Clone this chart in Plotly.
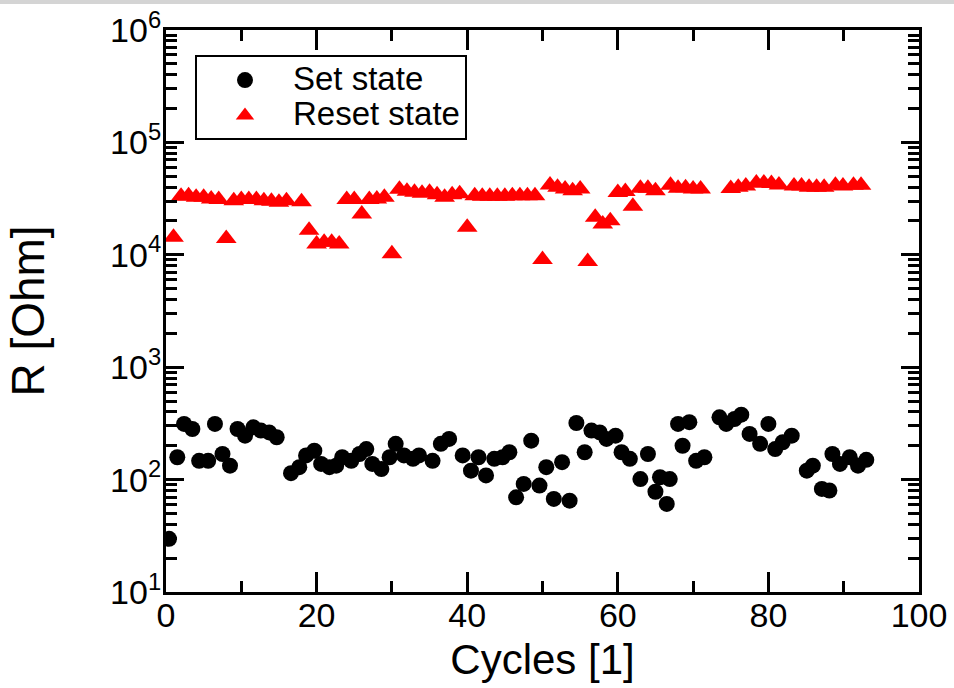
import plotly.graph_objects as go

# ---- data ----
set_cycles = [0.4, 1.5, 2.4, 3.5, 4.4, 5.6, 6.5, 7.5, 8.5, 9.5, 10.5, 11.6, 12.6, 13.7, 14.7,
              16.6, 17.7, 18.6, 19.7, 20.6, 21.7, 22.6, 23.4, 24.6, 25.7, 26.6, 27.4, 28.6, 29.7,
              30.5, 31.6, 32.8, 33.6, 35.4, 36.5, 37.6, 39.4, 40.5, 41.5, 42.5, 43.6, 44.7, 45.6,
              46.5, 47.5, 48.5, 49.6, 50.5, 51.5, 52.6, 53.6, 54.5, 55.6, 56.5, 57.6, 58.5, 59.7,
              60.5, 61.6, 63.0, 64.0, 65.0, 65.6, 66.5, 66.9, 68.0, 68.6, 69.5, 70.4, 71.5, 73.5,
              74.4, 75.5, 76.4, 77.5, 78.9, 80.0, 80.9, 81.9, 83.1, 85.1, 85.9, 87.1, 88.1, 88.5,
              89.5, 90.8, 91.9, 93.0]
set_r = [29.7, 158, 313, 282, 147, 147, 313, 169, 133, 282, 246, 292, 273, 263, 238,
         114, 129, 164, 181, 138, 129, 133, 158, 147, 169, 187, 138, 124, 158,
         208, 164, 153, 164, 147, 208, 230, 164, 120, 158, 109, 153, 158, 175,
         69.6, 91.5, 222, 88.4, 129, 67.3, 143, 65, 319, 175, 273, 263, 230, 246,
         175, 153, 101, 169, 78, 105, 60.8, 101, 313, 200, 324, 147, 158, 358,
         313, 346, 378, 255, 208, 313, 187, 215, 246, 120, 133, 82.6, 80, 169,
         138, 158, 133, 150]

reset_cycles = [1, 2, 3, 4, 5, 6, 7, 8, 9, 10, 11, 12, 13, 14, 15, 16, 18, 19, 20, 21, 22, 23,
                24, 25, 26, 27, 28, 29, 30, 31, 32, 33, 34, 35, 36, 37, 38, 39, 40, 41, 42, 43,
                44, 45, 46, 47, 48, 49, 50, 51, 52, 53, 54, 55, 56, 57, 58, 59, 60, 61, 62,
                63, 64, 65, 67, 68, 69, 70, 71, 75, 76, 77, 78.4, 79.4, 80.4, 81.4, 83.4,
                84.4, 85.4, 86.4, 87.4, 88.9, 89.9, 91.3, 92.3]
reset_r = [14300, 33100, 33600, 32500, 32500, 31300, 31000, 14000, 30300, 31000, 31000, 31000,
           30300, 29900, 29300, 30300, 29700, 16500, 12500, 12900, 12900, 12500,
           31000, 31000, 23100, 31000, 31300, 32500, 10200, 38300, 36700, 36000, 35300,
           36000, 34300, 32500, 34300, 35000, 17600, 33600, 33100, 33100, 33100, 33100,
           33600, 33600, 33600, 33600, 9060, 41800, 39800, 38500, 37200, 38500, 8700,
           21600, 18800, 20100, 35900, 36500, 27000,
           39000, 39000, 37200, 41500, 39000, 39500, 38500, 38500, 38800, 39800, 41000,
           43500, 43500, 43000, 41800, 41000, 41000, 40000, 40000, 40000, 41500, 41000,
           41500, 41500]

series_names = ["Set state", "Reset state"]
x_ticks = [0, 20, 40, 60, 80, 100]
y_decades = [1, 2, 3, 4, 5, 6]
y_ticktext = ["10<sup>%d</sup>" % d for d in y_decades]

FONT = "Liberation Sans, Arial, sans-serif"


def legend_name(s):
    return "<span style='font-size:33px'>%s</span>" % s


fig = go.Figure()
fig.add_trace(go.Scatter(
    x=set_cycles, y=set_r, mode="markers", name=legend_name(series_names[0]),
    marker=dict(symbol="circle", size=16, color="black", line=dict(width=0))))
fig.add_trace(go.Scatter(
    x=reset_cycles, y=reset_r, mode="markers", name=legend_name(series_names[1]),
    marker=dict(symbol="triangle-up", size=18, color="#ff0000", line=dict(width=0))))

minor_y = [m * 10 ** d for d in y_decades[:-1] for m in range(2, 10)]

fig.update_layout(
    width=954, height=688,
    margin=dict(l=166, r=35, t=30, b=96, autoexpand=False),
    paper_bgcolor="white", plot_bgcolor="white",
    font=dict(family=FONT, color="black", size=34),
    showlegend=True,
    legend=dict(
        x=0.0385, y=0.955, xanchor="left", yanchor="top",
        bordercolor="black", borderwidth=2, bgcolor="white",
        font=dict(family=FONT, size=25, color="black"),
        itemwidth=86, tracegroupgap=0,
    ),
    xaxis=dict(
        range=[0, 100], tickvals=x_ticks, ticks="inside", ticklen=20, tickwidth=3,
        tickcolor="black", showline=True, linewidth=3, linecolor="black",
        mirror="allticks", showgrid=False, zeroline=False, automargin=False,
        tickfont=dict(family=FONT, size=34), ticklabelstandoff=-9,
        minor=dict(dtick=10, tick0=0, ticks="inside", ticklen=11, tickwidth=3,
                   tickcolor="black", showgrid=False),
        title=dict(text="Cycles [1]", font=dict(family=FONT, size=42), standoff=12),
    ),
    yaxis=dict(
        type="log", range=[1, 6], tickmode="array",
        tickvals=[10 ** d for d in y_decades], ticktext=y_ticktext,
        ticks="inside", ticklen=18, tickwidth=3, tickcolor="black",
        showline=True, linewidth=3, linecolor="black", mirror="allticks",
        showgrid=False, zeroline=False, automargin=False,
        tickfont=dict(family=FONT, size=34), ticklabelstandoff=-5,
        minor=dict(tickmode="array", tickvals=minor_y, ticks="inside", ticklen=11,
                   tickwidth=3, tickcolor="black", showgrid=False),
        title=dict(text="R [Ohm]", font=dict(family=FONT, size=46), standoff=52),
    ),
)

# thin grey band at the very top of the screenshot
fig.add_shape(type="rect", xref="paper", yref="paper",
              x0=-0.3, x1=1.1, y0=1 + 26 / 562, y1=1 + 31 / 562,
              fillcolor="#d4d4d4", line=dict(width=0), layer="above")

fig.write_html("out.html")
